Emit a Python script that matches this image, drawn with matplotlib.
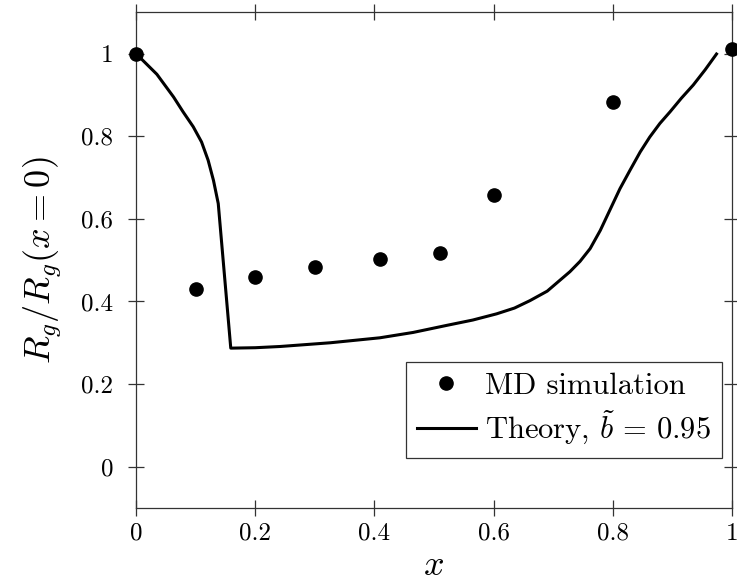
import matplotlib
matplotlib.use("Agg")
import matplotlib.pyplot as plt

plt.rcParams['font.family'] = 'serif'
plt.rcParams['font.serif'] = ['cmr10', 'DejaVu Serif']
plt.rcParams['mathtext.fontset'] = 'cm'
plt.rcParams['axes.formatter.use_mathtext'] = True

# MD simulation points
md_x = [0.0, 0.1, 0.2, 0.3, 0.41, 0.51, 0.6, 0.8, 1.0]
md_y = [1.0, 0.431, 0.459, 0.483, 0.502, 0.518, 0.658, 0.883, 1.011]

# Theory curve
th_x = [0.0, 0.035, 0.063, 0.079, 0.096, 0.110, 0.121, 0.130, 0.138, 0.159,
        0.2, 0.242, 0.326, 0.409, 0.465, 0.521, 0.565, 0.605, 0.635, 0.661,
        0.690, 0.711, 0.728, 0.745, 0.762, 0.779, 0.795, 0.812, 0.829, 0.846,
        0.862, 0.879, 0.896, 0.915, 0.935, 0.955, 0.974]
th_y = [1.0, 0.950, 0.895, 0.859, 0.823, 0.786, 0.742, 0.693, 0.637, 0.287,
        0.288, 0.291, 0.300, 0.312, 0.325, 0.342, 0.355, 0.370, 0.384, 0.402,
        0.425, 0.451, 0.472, 0.497, 0.528, 0.572, 0.621, 0.673, 0.718, 0.762,
        0.798, 0.831, 0.859, 0.892, 0.924, 0.961, 0.999]

xticks = [0, 0.2, 0.4, 0.6, 0.8, 1.0]
xtick_labels = ['0', '0.2', '0.4', '0.6', '0.8', '1']
yticks = [0, 0.2, 0.4, 0.6, 0.8, 1.0]
ytick_labels = ['0', '0.2', '0.4', '0.6', '0.8', '1']

fig = plt.figure(figsize=(7.37, 5.82), dpi=100)
ax = fig.add_axes([136/737, 1 - 508/582, (732-136)/737, (508-12.3)/582])

ax.plot(md_x, md_y, 'o', color='black', markersize=9.5, label='MD simulation',
        clip_on=False, zorder=4)
ax.plot(th_x, th_y, '-', color='black', linewidth=2.2,
        label=r'Theory, $\tilde{b}\,=\,0.95$', zorder=3)

ax.set_xlim(0, 1)
ax.set_ylim(-0.1, 1.1)
ax.set_xticks(xticks)
ax.set_xticklabels(xtick_labels)
ax.set_yticks(yticks)
ax.set_yticklabels(ytick_labels)

for s in ax.spines.values():
    s.set_linewidth(0.9)
    s.set_color('#333333')

ax.tick_params(direction='inout', length=11, width=0.9, color='#333333',
               top=True, right=True, labelsize=18)
ax.tick_params(axis='x', pad=5)
ax.tick_params(axis='y', pad=11)

ax.set_xlabel(r'$x$', fontsize=26, labelpad=4)
ax.set_ylabel(r'$R_g/R_g(x=0)$', fontsize=26, labelpad=12)

leg = ax.legend(loc='lower right', bbox_to_anchor=(0.983, 0.101), borderaxespad=0,
                fontsize=22, frameon=True, fancybox=False, framealpha=1,
                edgecolor='#333333', handlelength=1.95, handletextpad=0.3,
                borderpad=0.35, labelspacing=0.3)
leg.get_frame().set_linewidth(0.9)

fig.savefig('out.png', dpi=100)
